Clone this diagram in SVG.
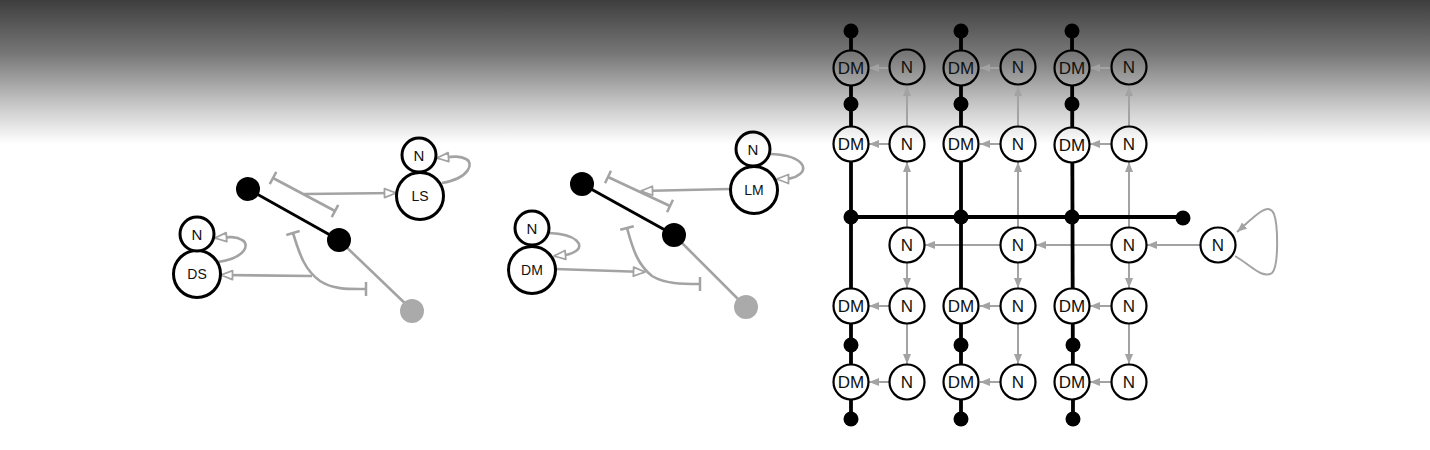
<svg xmlns="http://www.w3.org/2000/svg" width="1430" height="450" viewBox="0 0 1430 450">
<defs>
<linearGradient id="bg" gradientUnits="userSpaceOnUse" x1="0" y1="0" x2="0" y2="450">
<stop offset="0" stop-color="#3e3e3e"/>
<stop offset="0.12" stop-color="#777777"/>
<stop offset="0.24" stop-color="#cccccc"/>
<stop offset="0.32" stop-color="#ffffff"/>
<stop offset="1" stop-color="#ffffff"/>
</linearGradient>
<marker id="af" markerUnits="userSpaceOnUse" viewBox="0 0 10 10" refX="10" refY="5" markerWidth="10" markerHeight="10" orient="auto">
<path d="M0,1 L10,5 L0,9 z" fill="#a3a3a3"/>
</marker>
<marker id="ao" markerUnits="userSpaceOnUse" viewBox="0 0 14 12" refX="13" refY="6" markerWidth="14" markerHeight="12" orient="auto">
<path d="M1.5,1.5 L13,6 L1.5,10.5 z" fill="#ffffff" stroke="#a3a3a3" stroke-width="1.8" stroke-linejoin="round"/>
</marker>
<marker id="bar" markerUnits="userSpaceOnUse" viewBox="0 0 4 14" refX="2" refY="7" markerWidth="4" markerHeight="14" orient="auto">
<path d="M2,0 L2,14" stroke="#a3a3a3" stroke-width="2.5"/>
</marker>
<style>
.g{fill:none;stroke:#a3a3a3;stroke-width:2}
.gl{fill:none;stroke:#a3a3a3;stroke-width:2.6}
.k{fill:none;stroke:#000;stroke-width:3.8}
.kl{fill:none;stroke:#000;stroke-width:3}
.n{fill:url(#bg);stroke:#000;stroke-width:2.2}
.nl{fill:url(#bg);stroke:#000;stroke-width:3}
.dot{fill:#000}
.gdot{fill:#aaaaaa}
.t{font-family:"Liberation Sans",Arial,sans-serif;font-size:17px;fill:#111;text-anchor:middle;dominant-baseline:central}
.ts{font-family:"Liberation Sans",Arial,sans-serif;font-size:14px;fill:#111;text-anchor:middle;dominant-baseline:central}
.tn{font-family:"Liberation Sans",Arial,sans-serif;font-size:15px;fill:#111;text-anchor:middle;dominant-baseline:central}
</style>
</defs>
<rect x="0" y="0" width="1430" height="450" fill="url(#bg)"/>

<!-- Panel 1 -->
<g id="p1-connectors">
<line class="kl" x1="248" y1="189" x2="339" y2="240"/>
<line class="gl" x1="339" y1="240" x2="412" y2="310"/>
<path class="gl" d="M273,178 L335,211" marker-start="url(#bar)" marker-end="url(#bar)"/>
<path class="gl" d="M304,194 L396,193" marker-end="url(#ao)"/>
<path class="gl" d="M442,183 C470,178 474,163 466,159 C459,155 450,157 437,158" marker-end="url(#ao)"/>
<path class="gl" d="M218,262 C246,258 250,244 242,240 C236,236 228,237 215,238" marker-end="url(#ao)"/>
<path class="gl" d="M312,276 L221,275" marker-end="url(#ao)"/>
<path class="gl" d="M293,233 C300,256 305,270 320,281 C334,290 350,289 366,289" marker-start="url(#bar)" marker-end="url(#bar)"/>
</g>
<g id="p1-dotA"><circle class="dot" cx="248" cy="189" r="12"/></g>
<g id="p1-dotB"><circle class="dot" cx="339" cy="240" r="12"/></g>
<g id="p1-dotC"><circle class="gdot" cx="412" cy="311" r="12"/></g>
<g id="p1-LS"><circle class="nl" cx="420" cy="196" r="23.5"/><text class="ts" x="420" y="196">LS</text></g>
<g id="p1-N1"><circle class="nl" cx="419" cy="155" r="17"/><text class="tn" x="419" y="155">N</text></g>
<g id="p1-DS"><circle class="nl" cx="197" cy="274" r="23.5"/><text class="ts" x="197" y="274">DS</text></g>
<g id="p1-N2"><circle class="nl" cx="197" cy="234" r="17"/><text class="tn" x="197" y="234">N</text></g>

<!-- Panel 2 -->
<g id="p2-connectors">
<line class="kl" x1="582" y1="184" x2="674" y2="235"/>
<line class="gl" x1="674" y1="235" x2="746" y2="307"/>
<path class="gl" d="M608,177 L670,206" marker-start="url(#bar)" marker-end="url(#bar)"/>
<path class="gl" d="M730,189 L641,191" marker-end="url(#ao)"/>
<path class="gl" d="M770,154 C802,155 808,168 800,174 C794,179 788,179 777,179" marker-end="url(#ao)"/>
<path class="gl" d="M549,233 C578,234 584,246 576,251 C570,255 565,255 554,256" marker-end="url(#ao)"/>
<path class="gl" d="M555,269 L645,272" marker-end="url(#ao)"/>
<path class="gl" d="M627,228 C633,250 638,265 652,276 C665,284 682,284 700,284" marker-start="url(#bar)" marker-end="url(#bar)"/>
</g>
<g id="p2-dotA"><circle class="dot" cx="582" cy="184" r="12"/></g>
<g id="p2-dotB"><circle class="dot" cx="674" cy="235" r="12"/></g>
<g id="p2-dotC"><circle class="gdot" cx="746" cy="307" r="12"/></g>
<g id="p2-LM"><circle class="nl" cx="754" cy="190" r="23.5"/><text class="ts" x="754" y="190">LM</text></g>
<g id="p2-N1"><circle class="nl" cx="753" cy="149" r="17"/><text class="tn" x="753" y="149">N</text></g>
<g id="p2-DM"><circle class="nl" cx="532" cy="270" r="23.5"/><text class="ts" x="532" y="270">DM</text></g>
<g id="p2-N2"><circle class="nl" cx="532" cy="228" r="17"/><text class="tn" x="532" y="228">N</text></g>

<!-- Panel 3 grid -->
<g id="grid-connectors">
<path class="g" d="M889,68 L869,68" marker-end="url(#af)"/>
<path class="g" d="M1000,68 L980,68" marker-end="url(#af)"/>
<path class="g" d="M1111,68 L1090,68" marker-end="url(#af)"/>
<path class="g" d="M889,144 L869,144" marker-end="url(#af)"/>
<path class="g" d="M1000,144 L980,144" marker-end="url(#af)"/>
<path class="g" d="M1111,144 L1090,144" marker-end="url(#af)"/>
<path class="g" d="M889,306 L869,306" marker-end="url(#af)"/>
<path class="g" d="M1000,306 L980,306" marker-end="url(#af)"/>
<path class="g" d="M1111,306 L1090,306" marker-end="url(#af)"/>
<path class="g" d="M889,382 L869,382" marker-end="url(#af)"/>
<path class="g" d="M1000,382 L980,382" marker-end="url(#af)"/>
<path class="g" d="M1111,382 L1090,382" marker-end="url(#af)"/>
<path class="g" d="M907,126 L907,86" marker-end="url(#af)"/>
<path class="g" d="M1018,126 L1018,86" marker-end="url(#af)"/>
<path class="g" d="M1129,126 L1129,86" marker-end="url(#af)"/>
<path class="g" d="M907,227 L907,162" marker-end="url(#af)"/>
<path class="g" d="M1018,227 L1018,162" marker-end="url(#af)"/>
<path class="g" d="M1129,227 L1129,162" marker-end="url(#af)"/>
<path class="g" d="M907,263 L907,288" marker-end="url(#af)"/>
<path class="g" d="M1018,263 L1018,288" marker-end="url(#af)"/>
<path class="g" d="M1129,263 L1129,288" marker-end="url(#af)"/>
<path class="g" d="M907,324 L907,364" marker-end="url(#af)"/>
<path class="g" d="M1018,324 L1018,364" marker-end="url(#af)"/>
<path class="g" d="M1129,324 L1129,364" marker-end="url(#af)"/>
<path class="g" d="M1200,245 L1147,245" marker-end="url(#af)"/>
<path class="g" d="M1111,245 L1036,245" marker-end="url(#af)"/>
<path class="g" d="M1000,245 L925,245" marker-end="url(#af)"/>
<path class="g" d="M1235,256 C1252,266 1262,279 1272,273 C1279,266 1278,225 1274,214 C1268,200 1252,219 1237,232" marker-end="url(#af)"/>
<line class="k" x1="851" y1="31" x2="851" y2="419"/>
<line class="k" x1="961" y1="31" x2="961" y2="419"/>
<line class="k" x1="1072" y1="31" x2="1073" y2="419"/>
<line class="k" x1="851" y1="217" x2="1183" y2="217"/>
</g>
<g id="grid-dots">
<circle class="dot" cx="851" cy="31" r="7.5"/><circle class="dot" cx="961" cy="31" r="7.5"/><circle class="dot" cx="1072" cy="31" r="7.5"/>
<circle class="dot" cx="851" cy="104" r="7.5"/><circle class="dot" cx="961" cy="104" r="7.5"/><circle class="dot" cx="1072" cy="104" r="7.5"/>
<circle class="dot" cx="851" cy="217" r="7.5"/><circle class="dot" cx="961" cy="217" r="7.5"/><circle class="dot" cx="1072" cy="217" r="7.5"/>
<circle class="dot" cx="1183" cy="218" r="7.5"/>
<circle class="dot" cx="851" cy="345" r="7.5"/><circle class="dot" cx="961" cy="345" r="7.5"/><circle class="dot" cx="1073" cy="345" r="7.5"/>
<circle class="dot" cx="851" cy="419" r="7.5"/><circle class="dot" cx="961" cy="419" r="7.5"/><circle class="dot" cx="1073" cy="419" r="7.5"/>
</g>
<g id="dm-r1c1"><circle class="n" cx="851" cy="68" r="17.5"/><text class="t" x="851" y="68">DM</text></g>
<g id="dm-r1c2"><circle class="n" cx="961" cy="68" r="17.5"/><text class="t" x="961" y="68">DM</text></g>
<g id="dm-r1c3"><circle class="n" cx="1072" cy="68" r="17.5"/><text class="t" x="1072" y="68">DM</text></g>
<g id="n-r1c1"><circle class="n" cx="907" cy="67" r="17.5"/><text class="t" x="907" y="67">N</text></g>
<g id="n-r1c2"><circle class="n" cx="1018" cy="67" r="17.5"/><text class="t" x="1018" y="67">N</text></g>
<g id="n-r1c3"><circle class="n" cx="1129" cy="67" r="17.5"/><text class="t" x="1129" y="67">N</text></g>
<g id="dm-r2c1"><circle class="n" cx="851" cy="144" r="17.5"/><text class="t" x="851" y="144">DM</text></g>
<g id="dm-r2c2"><circle class="n" cx="961" cy="144" r="17.5"/><text class="t" x="961" y="144">DM</text></g>
<g id="dm-r2c3"><circle class="n" cx="1072" cy="145" r="17.5"/><text class="t" x="1072" y="145">DM</text></g>
<g id="n-r2c1"><circle class="n" cx="907" cy="144" r="17.5"/><text class="t" x="907" y="144">N</text></g>
<g id="n-r2c2"><circle class="n" cx="1018" cy="144" r="17.5"/><text class="t" x="1018" y="144">N</text></g>
<g id="n-r2c3"><circle class="n" cx="1129" cy="144" r="17.5"/><text class="t" x="1129" y="144">N</text></g>
<g id="n-r3c1"><circle class="n" cx="907" cy="245" r="17.5"/><text class="t" x="907" y="245">N</text></g>
<g id="n-r3c2"><circle class="n" cx="1018" cy="245" r="17.5"/><text class="t" x="1018" y="245">N</text></g>
<g id="n-r3c3"><circle class="n" cx="1129" cy="245" r="17.5"/><text class="t" x="1129" y="245">N</text></g>
<g id="n-r3c4"><circle class="n" cx="1218" cy="245" r="17.5"/><text class="t" x="1218" y="245">N</text></g>
<g id="dm-r4c1"><circle class="n" cx="851" cy="306" r="17.5"/><text class="t" x="851" y="306">DM</text></g>
<g id="dm-r4c2"><circle class="n" cx="961" cy="306" r="17.5"/><text class="t" x="961" y="306">DM</text></g>
<g id="dm-r4c3"><circle class="n" cx="1072" cy="306" r="17.5"/><text class="t" x="1072" y="306">DM</text></g>
<g id="n-r4c1"><circle class="n" cx="907" cy="306" r="17.5"/><text class="t" x="907" y="306">N</text></g>
<g id="n-r4c2"><circle class="n" cx="1018" cy="306" r="17.5"/><text class="t" x="1018" y="306">N</text></g>
<g id="n-r4c3"><circle class="n" cx="1129" cy="306" r="17.5"/><text class="t" x="1129" y="306">N</text></g>
<g id="dm-r5c1"><circle class="n" cx="851" cy="382" r="17.5"/><text class="t" x="851" y="382">DM</text></g>
<g id="dm-r5c2"><circle class="n" cx="961" cy="382" r="17.5"/><text class="t" x="961" y="382">DM</text></g>
<g id="dm-r5c3"><circle class="n" cx="1072" cy="382" r="17.5"/><text class="t" x="1072" y="382">DM</text></g>
<g id="n-r5c1"><circle class="n" cx="907" cy="382" r="17.5"/><text class="t" x="907" y="382">N</text></g>
<g id="n-r5c2"><circle class="n" cx="1018" cy="382" r="17.5"/><text class="t" x="1018" y="382">N</text></g>
<g id="n-r5c3"><circle class="n" cx="1129" cy="382" r="17.5"/><text class="t" x="1129" y="382">N</text></g>
</svg>
